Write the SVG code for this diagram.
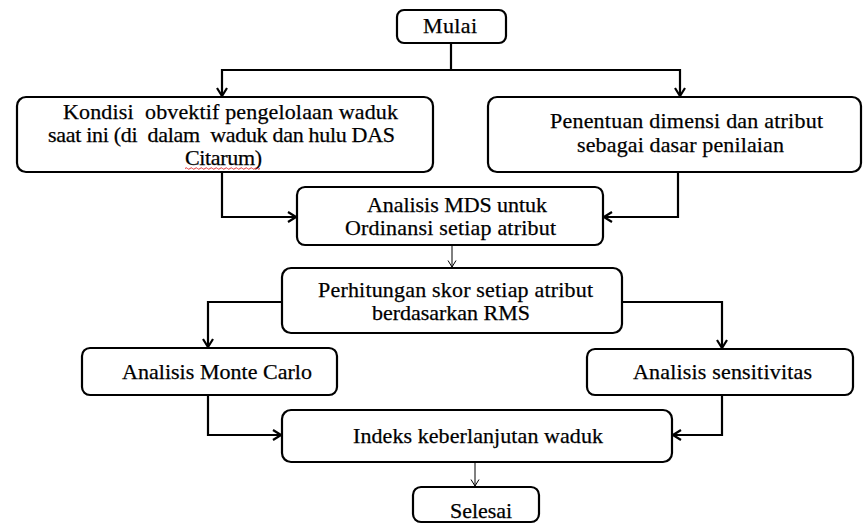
<svg xmlns="http://www.w3.org/2000/svg" width="863" height="531" viewBox="0 0 863 531">
<style>
.box{fill:#fff;stroke:#000;stroke-width:2.2}
.t{font-family:"Liberation Serif","Times New Roman",serif;font-size:22px;fill:#000;stroke:#000;stroke-width:0.25;white-space:pre}
.c{fill:none;stroke:#000;stroke-width:2.2}
.thin{fill:none;stroke:#000;stroke-width:1}
</style>
<defs>
<marker id="ah" viewBox="0 0 10 12" refX="9" refY="6" markerWidth="10" markerHeight="12" markerUnits="userSpaceOnUse" orient="auto">
<path d="M1,1 L9,6 L1,11" fill="none" stroke="#000" stroke-width="2.2"/>
</marker>
<marker id="ahs" viewBox="0 0 8 10" refX="7.5" refY="5" markerWidth="8" markerHeight="10" markerUnits="userSpaceOnUse" orient="auto">
<path d="M1,1 L7.5,5 L1,9" fill="none" stroke="#000" stroke-width="1"/>
</marker>
</defs>
<rect width="863" height="531" fill="#fff"/>
<g id="connectors">
<path class="c" d="M451 43 V70 H222 V96" marker-end="url(#ah)"/>
<path class="c" d="M451 70 H680 V96" marker-end="url(#ah)"/>
<path class="c" d="M222 172 V217 H296" marker-end="url(#ah)"/>
<path class="c" d="M678 172 V217 H604" marker-end="url(#ah)"/>
<path class="thin" d="M452 245 V267" marker-end="url(#ahs)"/>
<path class="c" d="M282 302 H208 V347" marker-end="url(#ah)"/>
<path class="c" d="M622 302 H722 V348" marker-end="url(#ah)"/>
<path class="c" d="M208 395 V435 H281" marker-end="url(#ah)"/>
<path class="c" d="M722 395 V435 H673" marker-end="url(#ah)"/>
<path class="thin" d="M475 462 V486" marker-end="url(#ahs)"/>
</g>
<g id="mulai">
<rect class="box" x="397" y="10" width="109" height="33" rx="7"/>
<text class="t" x="423" y="33" textLength="54">Mulai</text>
</g>
<g id="kondisi">
<rect class="box" x="17" y="97" width="416" height="75" rx="9"/>
<text class="t" x="63" y="119" textLength="335">Kondisi  obvektif pengelolaan waduk</text>
<text class="t" x="48" y="142" textLength="347">saat ini (di  dalam  waduk dan hulu DAS</text>
<text class="t" x="185" y="165" textLength="77">Citarum)</text>
<path d="M185 168.5 q1.25 -1.5 2.5 0 t2.5 0 t2.5 0 t2.5 0 t2.5 0 t2.5 0 t2.5 0 t2.5 0 t2.5 0 t2.5 0 t2.5 0 t2.5 0 t2.5 0 t2.5 0 t2.5 0 t2.5 0 t2.5 0 t2.5 0 t2.5 0 t2.5 0 t2.5 0 t2.5 0 t2.5 0 t2.5 0 t2.5 0 t2.5 0 t2.5 0 t2.5 0 t2.5 0 t2.5 0" fill="none" stroke="#e03030" stroke-width="1"/>
</g>
<g id="penentuan">
<rect class="box" x="488" y="97" width="373" height="75" rx="9"/>
<text class="t" x="550" y="128" textLength="273">Penentuan dimensi dan atribut</text>
<text class="t" x="577" y="152" textLength="207">sebagai dasar penilaian</text>
</g>
<g id="mds">
<rect class="box" x="297" y="187" width="306" height="58" rx="8"/>
<text class="t" x="367" y="212" textLength="180">Analisis MDS untuk</text>
<text class="t" x="345" y="235" textLength="211">Ordinansi setiap atribut</text>
</g>
<g id="perhitungan">
<rect class="box" x="282" y="268" width="340" height="65" rx="9"/>
<text class="t" x="318" y="297" textLength="275">Perhitungan skor setiap atribut</text>
<text class="t" x="372" y="320" textLength="158">berdasarkan RMS</text>
</g>
<g id="montecarlo">
<rect class="box" x="82" y="348" width="255" height="47" rx="8"/>
<text class="t" x="122" y="379" textLength="190">Analisis Monte Carlo</text>
</g>
<g id="sensitivitas">
<rect class="box" x="587" y="349" width="266" height="46" rx="8"/>
<text class="t" x="633" y="379" textLength="179">Analisis sensitivitas</text>
</g>
<g id="indeks">
<rect class="box" x="282" y="410" width="390" height="52" rx="9"/>
<text class="t" x="353" y="443" textLength="250">Indeks keberlanjutan waduk</text>
</g>
<g id="selesai">
<rect class="box" x="413" y="487" width="126" height="35" rx="8"/>
<text class="t" x="450" y="518" textLength="62">Selesai</text>
</g>
</svg>
